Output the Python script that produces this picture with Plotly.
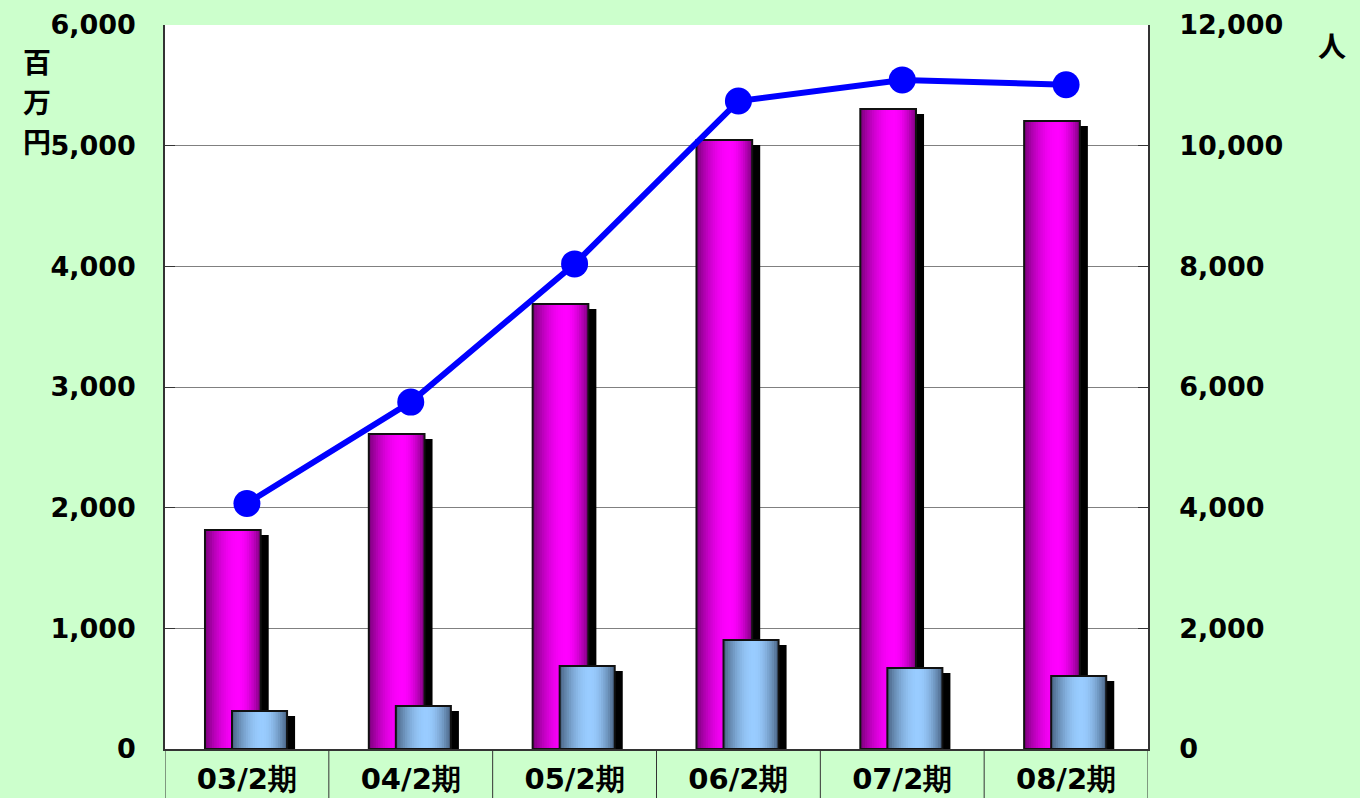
import math
import plotly.graph_objects as go

categories = ["03/2期", "04/2期", "05/2期", "06/2期", "07/2期", "08/2期"]
sales = [1815, 2610, 3688, 5047, 5304, 5204]        # 百万円 (magenta bars)
profit = [315, 356, 688, 903, 671, 605]             # 百万円 (blue bars)
members = [4070, 5750, 8040, 10740, 11090, 11010]  # 人 (line, right axis)

left_ticks = [0, 1000, 2000, 3000, 4000, 5000, 6000]
right_ticks = [0, 2000, 4000, 6000, 8000, 10000, 12000]
left_title_chars = ["百", "万", "円"]
right_title = "人"

FONT = "DejaVu Sans"
BG = "#CCFFCC"

def lerp(c1, c2, f):
    return "rgb(%d,%d,%d)" % tuple(round(a + (b - a) * f) for a, b in zip(c1, c2))

def profile(t, peak):
    if t <= peak:
        u = t / peak
    else:
        u = (1 - t) / (1 - peak)
    return math.sin(u * math.pi / 2) ** 0.9

fig = go.Figure()

def add_bar(values, offset, width, dark, light, peak, shadow_dy, n=24):
    dx = 0.049
    fig.add_trace(go.Bar(
        x=categories, y=[v - shadow_dy for v in values], offset=offset + dx, width=width,
        marker=dict(color="black", line=dict(width=0)), hoverinfo="skip", showlegend=False))
    sw = width / n
    for i in range(n):
        t = (i + 0.5) / n
        col = lerp(dark, light, profile(t, peak))
        fig.add_trace(go.Bar(
            x=categories, y=values, offset=offset + i * sw, width=width - i * sw,
            marker=dict(color=col, line=dict(width=0)), hoverinfo="skip", showlegend=False))
    fig.add_trace(go.Bar(
        x=categories, y=values, offset=offset, width=width,
        marker=dict(color="rgba(0,0,0,0)", line=dict(color="#111111", width=2)),
        showlegend=False))

add_bar(sales, -0.256, 0.340, (0x78, 0x00, 0x78), (0xFF, 0x00, 0xFF), 0.6, 41)
add_bar(profit, -0.091, 0.336, (0x46, 0x60, 0x80), (0x99, 0xCC, 0xFF), 0.55, 41)

fig.add_trace(go.Scatter(
    x=categories, y=members, yaxis="y2", mode="lines+markers",
    line=dict(color="#0000FF", width=6),
    marker=dict(color="#0000FF", size=27), showlegend=False))

shapes = []
for i in range(len(categories) + 1):
    shapes.append(dict(type="line", xref="x", yref="paper", x0=i - 0.5, x1=i - 0.5,
                       y0=0, y1=-0.08, line=dict(color="#333333", width=1)))

annotations = []
for k, ch in enumerate(left_title_chars):
    annotations.append(dict(text=ch, xref="paper", yref="paper", showarrow=False,
                            x=-128 / 983, y=1 - (36 + 40 * k) / 724,
                            xanchor="center", yanchor="middle",
                            font=dict(size=28, family="Noto Sans CJK JP", weight="bold")))
annotations.append(dict(text=right_title, xref="paper", yref="paper", showarrow=False,
                        x=1 + 184 / 983, y=1 - 20 / 724, xanchor="center", yanchor="middle",
                        font=dict(size=28, family="Noto Sans CJK JP", weight="bold")))

fig.update_layout(
    width=1360, height=798,
    margin=dict(l=165, r=212, t=25, b=49, autoexpand=False),
    paper_bgcolor=BG, plot_bgcolor="white",
    barmode="overlay",
    font=dict(family=FONT, color="black"),
    xaxis=dict(type="category", range=[-0.5, len(categories) - 0.5], automargin=False,
               showline=True, linecolor="#333333", linewidth=1.5,
               showgrid=False, ticks="", ticklabelstandoff=3,
               tickfont=dict(family=FONT, size=29, weight="bold")),
    yaxis=dict(range=[0, 6000], tickvals=left_ticks, tickformat=",d", automargin=False,
               showline=True, linecolor="#333333", linewidth=1.5,
               gridcolor="#808080", gridwidth=1, zeroline=False,
               ticks="inside", ticklen=10, tickcolor="#333333",
               ticklabelstandoff=22,
               tickfont=dict(family=FONT, size=27, weight="bold")),
    yaxis2=dict(range=[0, 12000], tickvals=right_ticks, tickformat=",d",
                overlaying="y", side="right", automargin=False,
                showline=True, linecolor="#333333", linewidth=1.5,
                showgrid=False, zeroline=False,
                ticks="inside", ticklen=10, tickcolor="#333333",
                ticklabelstandoff=24,
                tickfont=dict(family=FONT, size=27, weight="bold")),
    shapes=shapes,
    annotations=annotations,
)

fig.write_html("out.html", config={"displayModeBar": False},
               post_script="document.body.style.margin='0';document.body.style.background='#CCFFCC';")
